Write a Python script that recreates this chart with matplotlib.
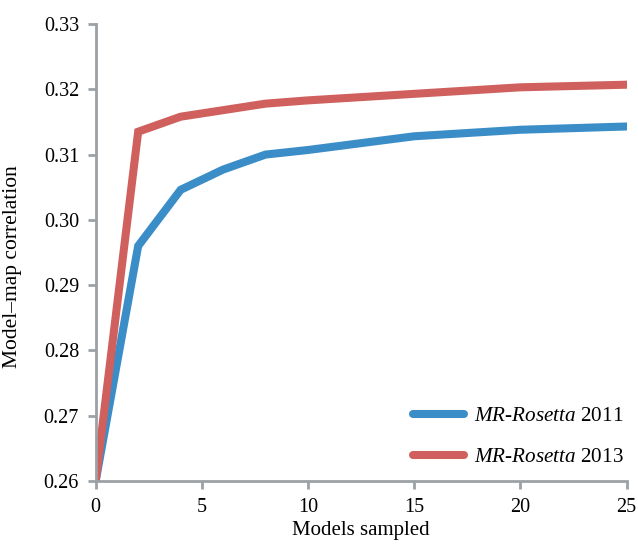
import matplotlib
matplotlib.use("Agg")
import matplotlib.pyplot as plt

# values
models = [0, 2, 4, 6, 8, 10, 15, 20, 25]
corr_2011 = [0.2600, 0.2960, 0.3046, 0.3077, 0.3100, 0.3107, 0.3128, 0.3138, 0.3143]
corr_2013 = [0.2600, 0.3135, 0.3158, 0.3168, 0.3178, 0.3183, 0.3193, 0.3203, 0.3207]
yticks = [0.26, 0.27, 0.28, 0.29, 0.30, 0.31, 0.32, 0.33]
xticks = [0, 5, 10, 15, 20, 25]

plt.rcParams['font.family'] = ['Liberation Serif', 'DejaVu Serif']
plt.rcParams['mathtext.fontset'] = 'custom'
plt.rcParams['mathtext.rm'] = 'Liberation Serif'
plt.rcParams['mathtext.it'] = 'Liberation Serif:italic'

blue = '#3b8dc8'
red = '#cf605d'
gray = '#9ca1a6'

fig = plt.figure(figsize=(6.38, 5.45), dpi=100)
ax = fig.add_axes([0.150, 0.1174, 0.832, 0.8386])

ax.plot(models, corr_2011, color=blue, lw=5.8, solid_joinstyle='miter',
        label=r'$\it{MR}$-$\it{Rosetta}$ 2011')
ax.plot(models, corr_2013, color=red, lw=5.8, solid_joinstyle='miter',
        label=r'$\it{MR}$-$\it{Rosetta}$ 2013')

ax.set_xlim(0, 25)
ax.set_ylim(0.26, 0.33)
ax.set_xticks(xticks)
ax.set_yticks(yticks)
ax.set_yticklabels([f'{v:.2f}' for v in yticks])

for s in ['top', 'right']:
    ax.spines[s].set_visible(False)
for s in ['left', 'bottom']:
    ax.spines[s].set_color(gray)
    ax.spines[s].set_linewidth(2)
ax.tick_params(axis='both', colors=gray, width=2, length=6, labelsize=14.5,
               labelcolor='black', pad=6)

ax.set_xlabel('Models sampled', fontsize=15, labelpad=3)
ax.set_ylabel('Model\u2013map correlation', fontsize=15.5, labelpad=8)
ax.yaxis.set_label_coords(-0.138, 0.47)

leg = ax.legend(loc='lower right', frameon=False, fontsize=15.2,
                handlelength=2.4, handletextpad=0.45, labelspacing=1.0,
                borderaxespad=0, bbox_to_anchor=(1.01, 0.012))
for h in leg.get_lines():
    h.set_solid_capstyle('round')

fig.savefig('out.png', dpi=100)
